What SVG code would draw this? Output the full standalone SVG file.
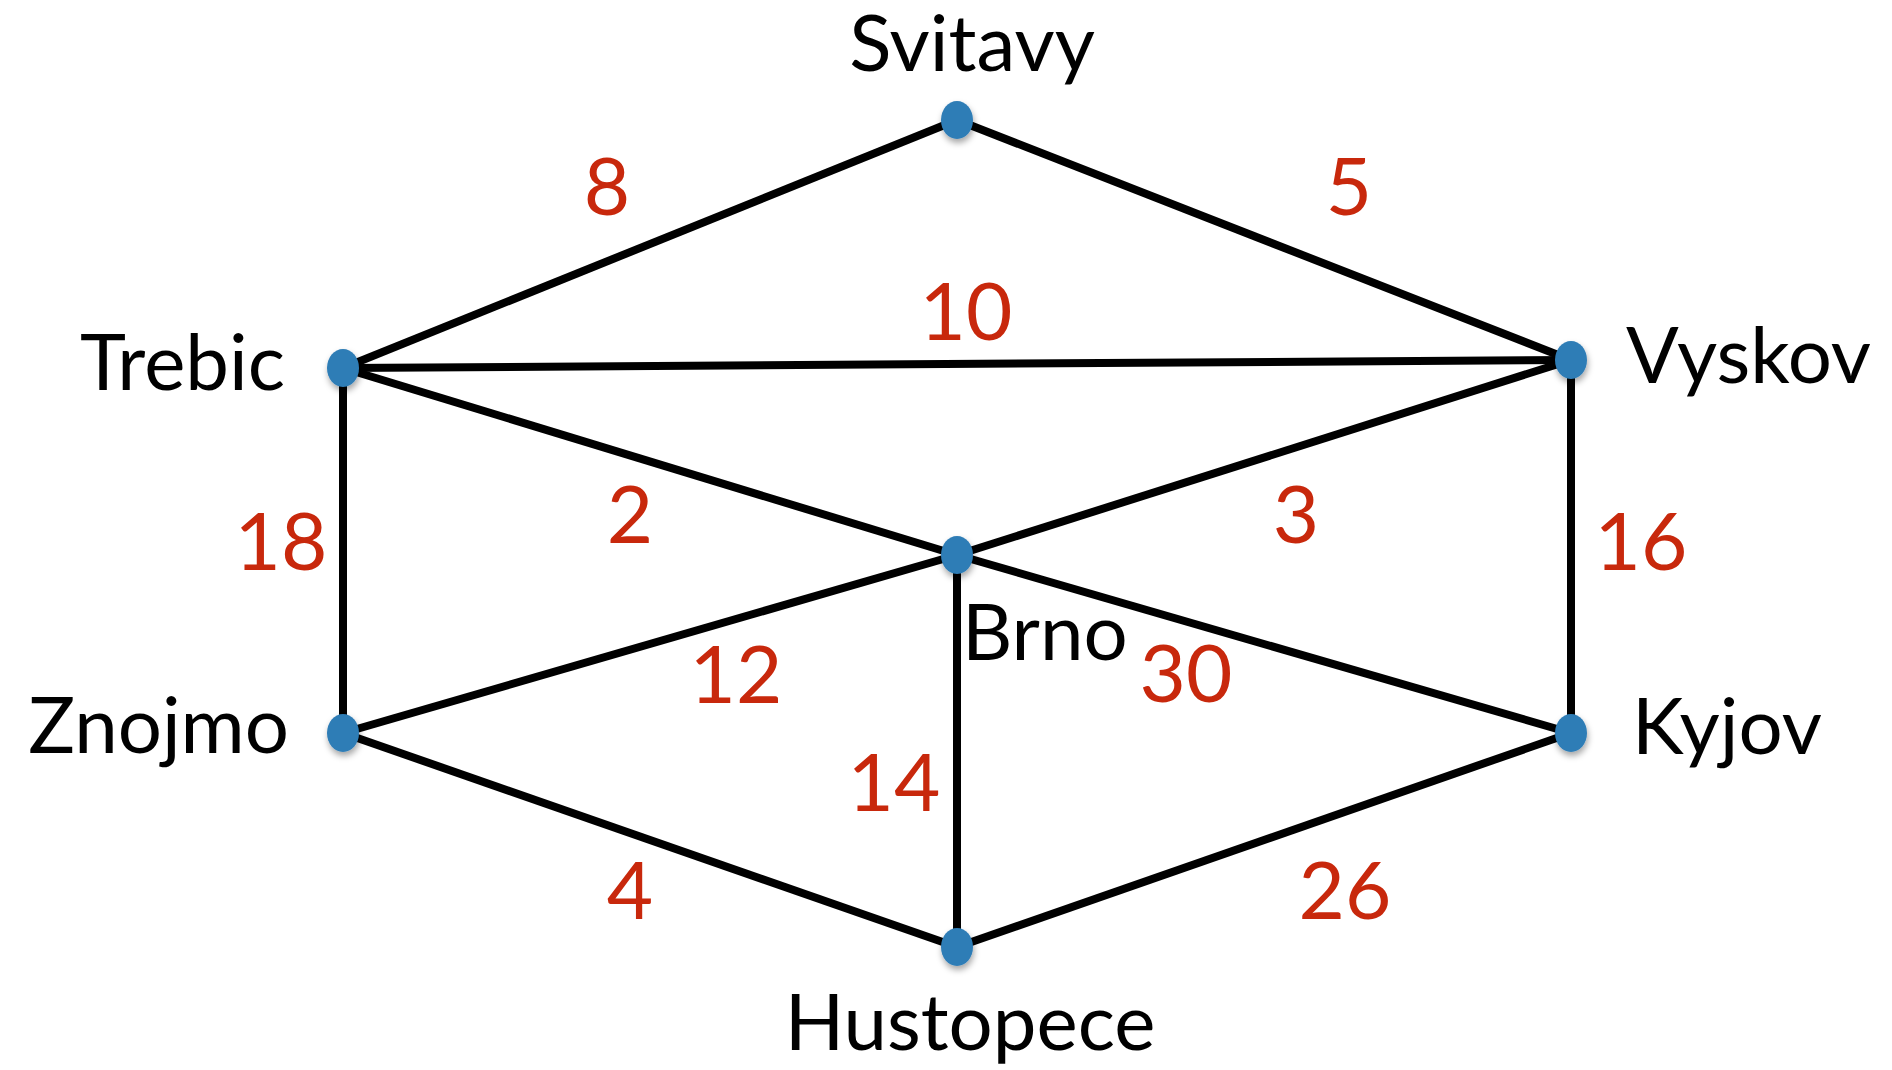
<svg xmlns="http://www.w3.org/2000/svg" width="1892" height="1070" viewBox="0 0 1892 1070">
<style>
.edge{stroke:#000;stroke-width:8;fill:none}
.dot{fill:#2f7db6}
.lbl{font-family:Lato,"Liberation Sans",sans-serif;font-size:78px;fill:#000}
.w{font-family:Lato,"Liberation Sans",sans-serif;font-size:80px;fill:#c8280c;text-anchor:middle}
</style>
<defs>
<filter id="sh" x="-50%" y="-50%" width="200%" height="200%">
<feDropShadow dx="1" dy="4" stdDeviation="3" flood-color="#000" flood-opacity="0.35"/>
</filter>
</defs>
<rect width="1892" height="1070" fill="#fff"/>
<g id="connectors">
<line class="edge" x1="957" y1="120" x2="343" y2="368"/>
<line class="edge" x1="957" y1="120" x2="1571" y2="360"/>
<line class="edge" x1="343" y1="368" x2="1571" y2="360"/>
<line class="edge" x1="343" y1="368" x2="957" y2="555"/>
<line class="edge" x1="957" y1="555" x2="1571" y2="360"/>
<line class="edge" x1="343" y1="368" x2="343" y2="733"/>
<line class="edge" x1="1571" y1="360" x2="1571" y2="733"/>
<line class="edge" x1="343" y1="733" x2="957" y2="555"/>
<line class="edge" x1="957" y1="555" x2="1571" y2="733"/>
<line class="edge" x1="957" y1="555" x2="957" y2="947"/>
<line class="edge" x1="343" y1="733" x2="957" y2="947"/>
<line class="edge" x1="957" y1="947" x2="1571" y2="733"/>
<text class="w" x="607" y="215">8</text>
<text class="w" x="1349" y="215">5</text>
<text class="w" x="966" y="340">10</text>
<text class="w" x="630" y="543">2</text>
<text class="w" x="1296" y="543">3</text>
<text class="w" x="281" y="570">18</text>
<text class="w" x="1641" y="570">16</text>
<text class="w" x="736" y="703">12</text>
<text class="w" x="1186" y="702">30</text>
<text class="w" x="894" y="811">14</text>
<text class="w" x="630" y="919">4</text>
<text class="w" x="1345" y="919">26</text>
</g>
<g id="svitavy"><ellipse class="dot" filter="url(#sh)" cx="957" cy="120" rx="16" ry="19"/><text class="lbl" x="972" y="71" text-anchor="middle">Svitavy</text></g>
<g id="trebic"><ellipse class="dot" filter="url(#sh)" cx="343" cy="368" rx="16" ry="19"/><text class="lbl" x="285" y="390" text-anchor="end">Trebic</text></g>
<g id="vyskov"><ellipse class="dot" filter="url(#sh)" cx="1571" cy="360" rx="16" ry="19"/><text class="lbl" x="1626" y="383">Vyskov</text></g>
<g id="brno"><ellipse class="dot" filter="url(#sh)" cx="957" cy="555" rx="16" ry="19"/><text class="lbl" x="962" y="660">Brno</text></g>
<g id="znojmo"><ellipse class="dot" filter="url(#sh)" cx="343" cy="733" rx="16" ry="19"/><text class="lbl" x="289" y="753" text-anchor="end">Znojmo</text></g>
<g id="kyjov"><ellipse class="dot" filter="url(#sh)" cx="1571" cy="733" rx="16" ry="19"/><text class="lbl" x="1632" y="754">Kyjov</text></g>
<g id="hustopece"><ellipse class="dot" filter="url(#sh)" cx="957" cy="947" rx="16" ry="19"/><text class="lbl" x="970" y="1050" text-anchor="middle">Hustopece</text></g>
</svg>
